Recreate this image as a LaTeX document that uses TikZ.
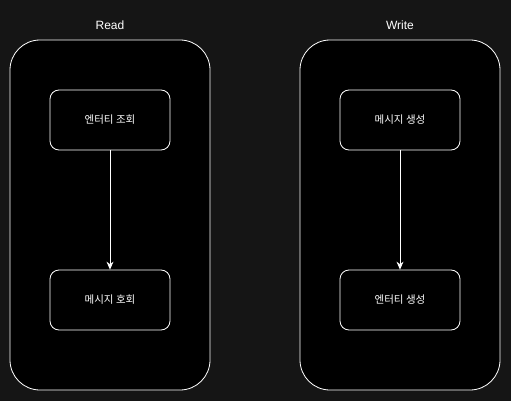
\documentclass[tikz,border=0pt]{standalone}
\usepackage{fontspec}
\setmainfont{Liberation Sans}
\newfontfamily\krfont{Noto Sans CJK KR}
\usetikzlibrary{positioning,arrows.meta}
\definecolor{bggray}{RGB}{21,21,21}

\begin{document}
\begin{tikzpicture}[x=1pt,y=-1pt,
    lane/.style={draw=white,fill=black,line width=0.8pt,rounded corners=30pt,minimum width=200pt,minimum height=350pt},
    stepbox/.style={draw=white,fill=black,line width=0.8pt,rounded corners=9pt,minimum width=120pt,minimum height=60pt,text=white,font=\krfont\fontsize{10.5}{12}\selectfont},
    lanetitle/.style={text=white,font=\fontsize{12}{14}\selectfont},
    flow/.style={draw=white,line width=0.8pt,-{Stealth[length=8pt,width=7pt]}}]
    \fill[bggray] (0,0) rectangle (511,401);
    % read side
    \node[lane] (read) at (110,215) {};
    \node[lanetitle] (readtitle) at (110,25) {Read};
    \node[stepbox] (entityqry) at (110,120) {엔터티 조회};
    \node[stepbox] (msgqry) at (110,300) {메시지 호회};
    \draw[flow] (entityqry) -- (msgqry);
    % write side
    \node[lane] (write) at (400,215) {};
    \node[lanetitle] (writetitle) at (400,25) {Write};
    \node[stepbox] (msgnew) at (400,120) {메시지 생성};
    \node[stepbox] (entitynew) at (400,300) {엔터티 생성};
    \draw[flow] (msgnew) -- (entitynew);
\end{tikzpicture}
\end{document}
